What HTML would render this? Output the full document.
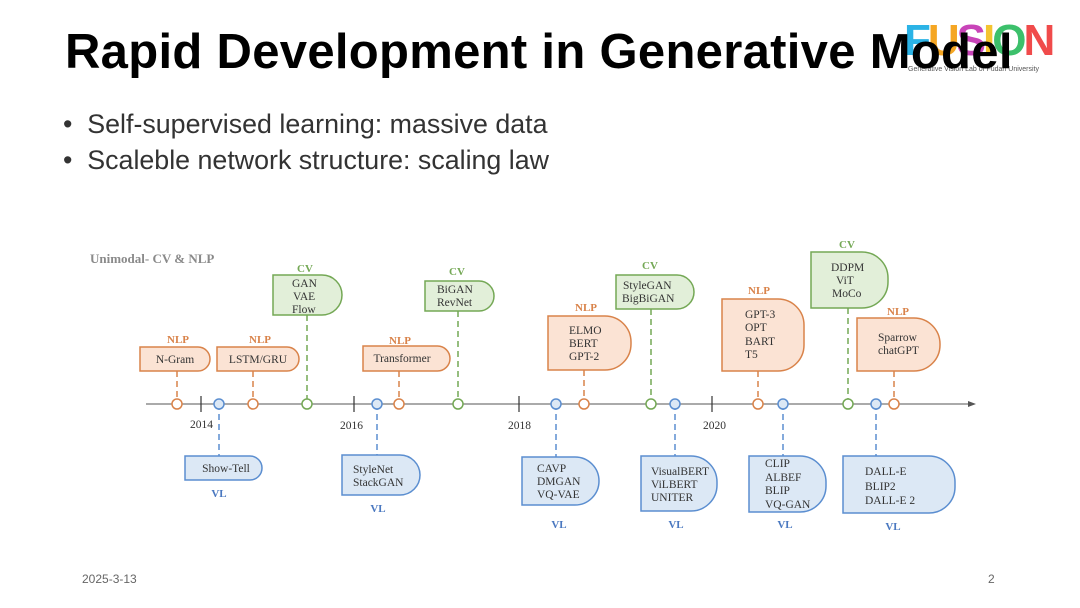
<!DOCTYPE html>
<html><head><meta charset="utf-8"><style>
body{margin:0;width:1080px;height:608px;background:#fff;overflow:hidden;position:relative;font-family:"Liberation Sans",sans-serif}
.abs{position:absolute;white-space:nowrap}
</style></head><body>
<div class="abs" style="left:904px;top:16px;font:bold 44px 'Liberation Sans',sans-serif;letter-spacing:-3px">
<span style="color:#2bb3e6">F</span><span style="color:#f5a623">U</span><span style="color:#c844b8">S</span><span style="color:#f4c430">I</span><span style="color:#3cc06b">O</span><span style="color:#f04b4b">N</span></div>
<div class="abs" style="left:908px;top:66px;font-size:7px;color:#555">Generative Vision Lab of Fudan University</div>
<div class="abs" style="left:65px;top:24px;font-size:49px;font-weight:bold;color:#000;letter-spacing:0.3px">Rapid Development in Generative Model</div>
<div class="abs" style="left:63px;top:109px;font-size:26.8px;color:#333">•&nbsp; Self-supervised learning: massive data</div>
<div class="abs" style="left:63px;top:145px;font-size:26.8px;color:#333">•&nbsp; Scaleble network structure: scaling law</div>
<div class="abs" style="left:82px;top:572px;font-size:12px;color:#666">2025-3-13</div>
<div class="abs" style="left:988px;top:572px;font-size:12px;color:#666">2</div>
<svg class="abs" style="left:0;top:0" width="1080" height="608" font-family="Liberation Serif,serif" font-size="11.5">
<text x="90" y="263" fill="#8a8a8a" font-size="13" font-weight="bold">Unimodal- CV &amp; NLP</text>
<line x1="146" y1="404" x2="970" y2="404" stroke="#555" stroke-width="1"/>
<path d="M968 401 L976 404 L968 407 Z" fill="#555"/>
<g stroke="#333" stroke-width="1.2"><line x1="201" y1="396" x2="201" y2="412"/><line x1="354" y1="396" x2="354" y2="412"/><line x1="519" y1="396" x2="519" y2="412"/><line x1="712" y1="396" x2="712" y2="412"/></g>
<g fill="#333" font-size="11.5"><text x="190" y="428">2014</text><text x="340" y="429">2016</text><text x="508" y="429">2018</text><text x="703" y="429">2020</text></g>

<g stroke="#d9834a" stroke-width="1.5" stroke-dasharray="6,4">
<line x1="177" y1="371" x2="177" y2="404"/><line x1="253" y1="371" x2="253" y2="404"/><line x1="399" y1="371" x2="399" y2="404"/><line x1="584" y1="370" x2="584" y2="404"/><line x1="758" y1="371" x2="758" y2="404"/><line x1="894" y1="371" x2="894" y2="404"/></g>
<g stroke="#74a855" stroke-width="1.5" stroke-dasharray="6,4">
<line x1="307" y1="315" x2="307" y2="404"/><line x1="458" y1="311" x2="458" y2="404"/><line x1="651" y1="309" x2="651" y2="404"/><line x1="848" y1="308" x2="848" y2="404"/></g>
<g stroke="#5b8ed0" stroke-width="1.5" stroke-dasharray="6,4">
<line x1="219" y1="404" x2="219" y2="456"/><line x1="377" y1="404" x2="377" y2="455"/><line x1="556" y1="404" x2="556" y2="457"/><line x1="675" y1="404" x2="675" y2="456"/><line x1="783" y1="404" x2="783" y2="456"/><line x1="876" y1="404" x2="876" y2="456"/></g>

<g fill="#fbe3d4" stroke="#d9834a" stroke-width="1.5">
<path d="M140 347 H198 A12 12 0 0 1 210 359 A12 12 0 0 1 198 371 H140 Z"/>
<path d="M217 347 H287 A12 12 0 0 1 299 359 A12 12 0 0 1 287 371 H217 Z"/>
<path d="M363 346 H437.5 A12.5 12.5 0 0 1 450 358.5 A12.5 12.5 0 0 1 437.5 371 H363 Z"/>
<path d="M548 316 H605 A26 26 0 0 1 631 342 V344 A26 26 0 0 1 605 370 H548 Z"/>
<path d="M722 299 H778 A26 26 0 0 1 804 325 V345 A26 26 0 0 1 778 371 H722 Z"/>
<path d="M857 318 H914 A26 26 0 0 1 940 344 V345 A26 26 0 0 1 914 371 H857 Z"/>
</g>
<g fill="#e2efd9" stroke="#74a855" stroke-width="1.5">
<path d="M273 275 H322 A20 20 0 0 1 342 295 A20 20 0 0 1 322 315 H273 Z"/>
<path d="M425 281 H479 A15 15 0 0 1 494 296 A15 15 0 0 1 479 311 H425 Z"/>
<path d="M616 275 H677 A17 17 0 0 1 694 292 A17 17 0 0 1 677 309 H616 Z"/>
<path d="M811 252 H862 A26 26 0 0 1 888 278 V282 A26 26 0 0 1 862 308 H811 Z"/>
</g>
<g fill="#dce8f5" stroke="#5b8ed0" stroke-width="1.5">
<path d="M185 456 H250 A12 12 0 0 1 262 468 A12 12 0 0 1 250 480 H185 Z"/>
<path d="M342 455 H400 A20 20 0 0 1 420 475 A20 20 0 0 1 400 495 H342 Z"/>
<path d="M522 457 H575 A24 24 0 0 1 599 481 A24 24 0 0 1 575 505 H522 Z"/>
<path d="M641 456 H691 A26 26 0 0 1 717 482 V485 A26 26 0 0 1 691 511 H641 Z"/>
<path d="M749 456 H800 A26 26 0 0 1 826 482 V486 A26 26 0 0 1 800 512 H749 Z"/>
<path d="M843 456 H929 A26 26 0 0 1 955 482 V487 A26 26 0 0 1 929 513 H843 Z"/>
</g>

<g fill="#fff" stroke-width="1.5">
<g stroke="#d9834a"><circle cx="177" cy="404" r="5"/><circle cx="253" cy="404" r="5"/><circle cx="399" cy="404" r="5"/><circle cx="584" cy="404" r="5"/><circle cx="758" cy="404" r="5"/><circle cx="894" cy="404" r="5"/></g>
<g stroke="#74a855"><circle cx="307" cy="404" r="5"/><circle cx="458" cy="404" r="5"/><circle cx="651" cy="404" r="5"/><circle cx="848" cy="404" r="5"/></g>
<g stroke="#5b8ed0" fill="#dce8f5"><circle cx="219" cy="404" r="5"/><circle cx="377" cy="404" r="5"/><circle cx="556" cy="404" r="5"/><circle cx="675" cy="404" r="5"/><circle cx="783" cy="404" r="5"/><circle cx="876" cy="404" r="5"/></g>
</g>

<g font-weight="bold" text-anchor="middle" font-size="11">
<g fill="#d9834a"><text x="178" y="343">NLP</text><text x="260" y="343">NLP</text><text x="400" y="344">NLP</text><text x="586" y="311">NLP</text><text x="759" y="294">NLP</text><text x="898" y="315">NLP</text></g>
<g fill="#74a855"><text x="305" y="272">CV</text><text x="457" y="275">CV</text><text x="650" y="269">CV</text><text x="847" y="248">CV</text></g>
<g fill="#4a78c0"><text x="219" y="497">VL</text><text x="378" y="512">VL</text><text x="559" y="528">VL</text><text x="676" y="528">VL</text><text x="785" y="528">VL</text><text x="893" y="530">VL</text></g>
</g>

<g fill="#333">
<g text-anchor="middle">
<text x="175" y="363">N-Gram</text>
<text x="226" y="472">Show-Tell</text>
<text x="258" y="363">LSTM/GRU</text>
<text x="402" y="362">Transformer</text>
</g>
<text x="292" y="287">GAN</text><text x="293" y="300">VAE</text><text x="292" y="313">Flow</text>
<text x="353" y="473">StyleNet</text><text x="353" y="486">StackGAN</text>
<text x="437" y="293">BiGAN</text><text x="437" y="306">RevNet</text>
<text x="537" y="472">CAVP</text><text x="537" y="485">DMGAN</text><text x="537" y="498">VQ-VAE</text>
<text x="569" y="334">ELMO</text><text x="569" y="347">BERT</text><text x="569" y="360">GPT-2</text>
<text x="623" y="289">StyleGAN</text><text x="622" y="302">BigBiGAN</text>
<text x="651" y="475">VisualBERT</text><text x="651" y="488">ViLBERT</text><text x="651" y="501">UNITER</text>
<text x="745" y="318">GPT-3</text><text x="745" y="331">OPT</text><text x="745" y="345">BART</text><text x="745" y="358">T5</text>
<text x="765" y="467">CLIP</text><text x="765" y="481">ALBEF</text><text x="765" y="494">BLIP</text><text x="765" y="508">VQ-GAN</text>
<text x="831" y="271">DDPM</text><text x="836" y="284">ViT</text><text x="832" y="297">MoCo</text>
<text x="865" y="475">DALL-E</text><text x="865" y="490">BLIP2</text><text x="865" y="504">DALL-E 2</text>
<text x="878" y="341">Sparrow</text><text x="878" y="354">chatGPT</text>
</g>
</svg>
</body></html>
